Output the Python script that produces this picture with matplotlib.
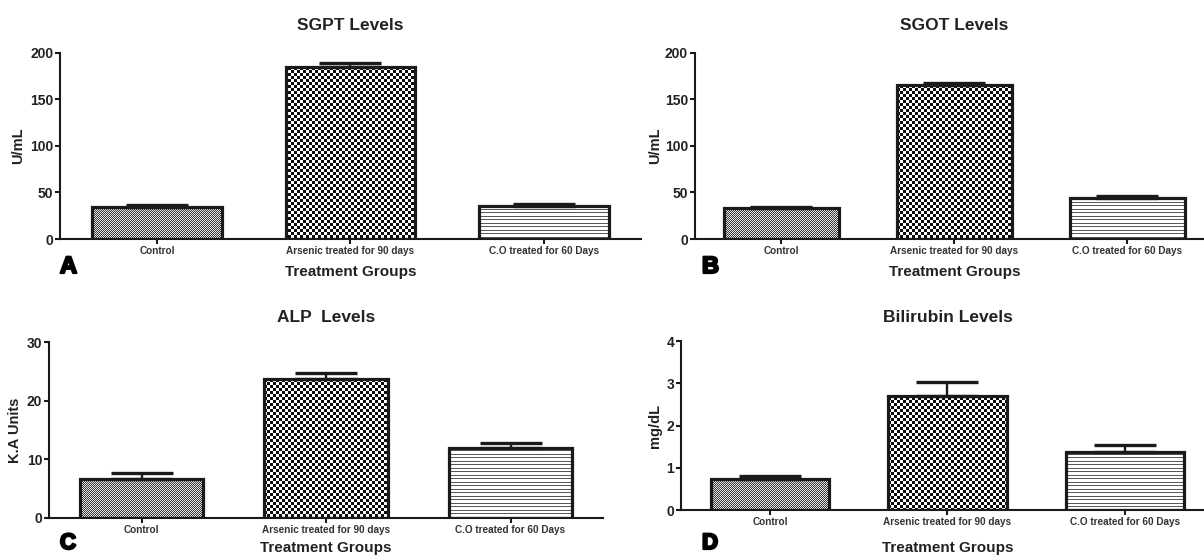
import numpy as np
import matplotlib
matplotlib.use('Agg')
import matplotlib.pyplot as plt
import matplotlib.patheffects as pe

plt.rcParams['font.family'] = ['Liberation Sans', 'DejaVu Sans']

# data (mean, upper SEM)
groups = ['Control', 'Arsenic treated for 90 days', 'C.O treated for 60 Days']

sgpt_mean = [34.0, 185.0, 35.5]
sgpt_err = [2.0, 3.5, 1.8]

sgot_mean = [33.0, 165.0, 44.4]
sgot_err = [1.7, 2.5, 1.8]

alp_mean = [6.6, 23.7, 12.0]
alp_err = [1.0, 1.1, 0.8]

bili_mean = [0.75, 2.69, 1.37]
bili_err = [0.06, 0.35, 0.17]

W, H = 1204, 556
fig = plt.figure(figsize=(W / 100, H / 100), dpi=100)

# fill textures (pixel patterns like the GraphPad fills)
yy, xx = np.mgrid[0:H, 0:W]
fine = np.where((yy + xx) % 2 == 0, 0.22, 0.9)
coarse = np.where((yy // 3 + xx // 3) % 2 == 0, 0.05, 1.0)
stripes = np.where(np.isin(yy % 7, [0, 3]), 0.35, 1.0)
textures = [fine, coarse, stripes]

panels = [
    # rect, title, ylabel, mean, err, ymax, yticks, title pad, xlabel y, ylabel x
    ([0.05004, 0.57014, 0.48214, 0.33507], 'SGPT Levels', 'U/mL',
     sgpt_mean, sgpt_err, 200, [0, 50, 100, 150, 200], 16, -0.177, -0.072),
    ([0.57724, 0.57014, 0.43106, 0.33507], 'SGOT Levels', 'U/mL',
     sgot_mean, sgot_err, 200, [0, 50, 100, 150, 200], 16, -0.177, -0.077),
    ([0.04091, 0.06888, 0.45972, 0.31547], 'ALP  Levels', 'K.A Units',
     alp_mean, alp_err, 30, [0, 10, 20, 30], 14.5, -0.173, -0.062),
    ([0.56582, 0.08219, 0.44228, 0.30450], 'Bilirubin Levels', 'mg/dL',
     bili_mean, bili_err, 4, [0, 1, 2, 3, 4], 14, -0.224, -0.049),
]

letters = [('A', 60, 273, 17), ('B', 702, 273, 17), ('C', 60, 549, 16), ('D', 702, 549, 16)]

x = np.arange(len(groups))
ink = '#1a1a1a'

for rect, title, ylab, mean, err, ymax, yt, tpad, xl_y, yl_x in panels:
    ax = fig.add_axes(rect, zorder=2)
    ax.patch.set_visible(False)
    bars = ax.bar(x, mean, width=0.67, facecolor='none', edgecolor=ink,
                  linewidth=2.3, zorder=2)
    ax.errorbar(x, mean, yerr=[np.zeros(len(mean)), err], fmt='none',
                ecolor=ink, elinewidth=1.7, capsize=22, capthick=2.4, zorder=3)
    for bar, tex in zip(bars, textures):
        im = fig.figimage(tex, xo=0, yo=0, cmap='gray', vmin=0, vmax=1,
                          origin='lower', zorder=1)
        im.set_clip_path(bar)

    ax.set_xlim(-0.5, 2.5)
    ax.set_ylim(0, ymax)
    ax.set_yticks(yt)
    ax.set_xticks(x)
    ax.set_xticklabels(groups, fontsize=7.2, fontweight='bold', color='#333333')
    for lbl in ax.get_yticklabels():
        lbl.set_fontsize(10)
        lbl.set_fontweight('bold')
        lbl.set_color('#222222')
    ax.tick_params(axis='both', direction='out', length=3.6, width=1.5,
                   color=ink, pad=1.5)
    for s in ['top', 'right']:
        ax.spines[s].set_visible(False)
    for s in ['left', 'bottom']:
        ax.spines[s].set_linewidth(1.5)
        ax.spines[s].set_color(ink)

    ax.set_title(title, fontsize=12.5, fontweight='bold', color='#222222', pad=tpad)
    ax.set_ylabel(ylab, fontsize=10.5, fontweight='bold', color='#222222', va='center')
    ax.yaxis.set_label_coords(yl_x, 0.5)
    ax.set_xlabel('Treatment Groups', fontsize=11, fontweight='bold',
                  color='#222222', va='center')
    ax.xaxis.set_label_coords(0.5, xl_y)

for letter, px, py, fs in letters:
    fig.text(px / W, 1 - py / H, letter, fontsize=fs, fontweight='bold',
             ha='left', va='baseline', color='black',
             path_effects=[pe.withStroke(linewidth=1.6, foreground='black')])

fig.savefig('out.png', dpi=100, facecolor='white')
